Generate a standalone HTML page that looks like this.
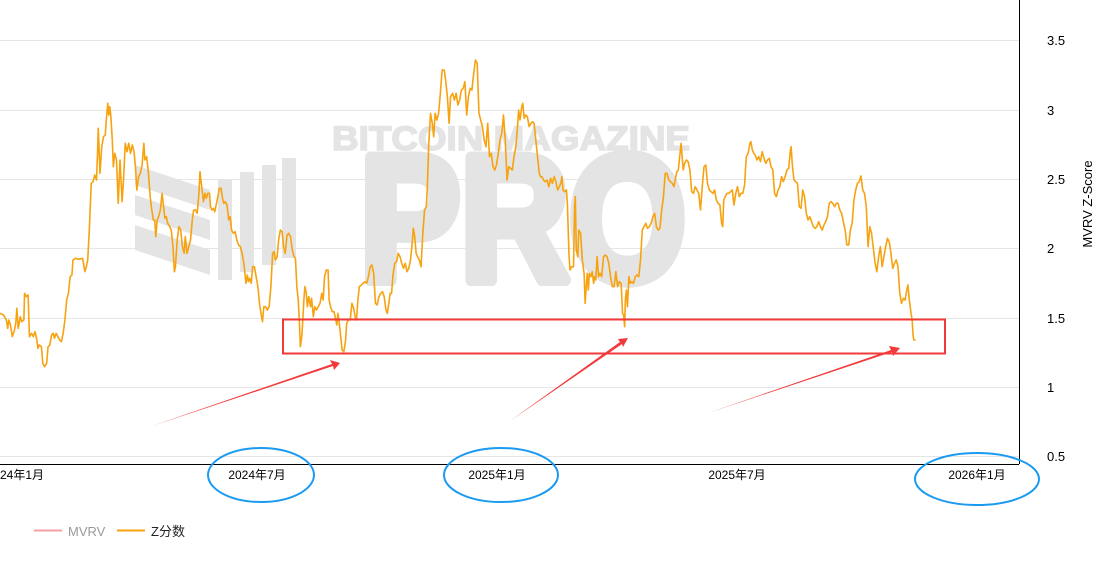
<!DOCTYPE html>
<html><head><meta charset="utf-8"><style>
html,body{margin:0;padding:0;background:#fff;width:1093px;height:562px;overflow:hidden}
svg{display:block;font-family:"Liberation Sans","Noto Sans CJK SC",sans-serif}
</style></head><body>
<svg width="1093" height="562" viewBox="0 0 1093 562">
<!-- grid -->
<g stroke="#e6e6e6" stroke-width="1">
<line x1="0" x2="1019" y1="40.5" y2="40.5"/>
<line x1="0" x2="1019" y1="110.5" y2="110.5"/>
<line x1="0" x2="1019" y1="179.5" y2="179.5"/>
<line x1="0" x2="1019" y1="248.5" y2="248.5"/>
<line x1="0" x2="1019" y1="318.5" y2="318.5"/>
<line x1="0" x2="1019" y1="387.5" y2="387.5"/>
<line x1="0" x2="1019" y1="456.5" y2="456.5"/>
</g>
<!-- watermark -->
<g fill="#e4e4e4" stroke="#e4e4e4">
<text x="332" y="150" font-size="34" font-weight="bold" stroke-width="1.5" textLength="358" lengthAdjust="spacingAndGlyphs">BITCOIN MAGAZINE</text>
<text x="360" y="280" font-size="178" font-weight="bold" stroke-width="12" stroke-linejoin="round" textLength="326" lengthAdjust="spacingAndGlyphs">PRO</text>
</g>
<g fill="#e4e4e4">
<polygon points="135,165 210,190 210,210 135,185"/>
<polygon points="135,195 210,220 210,240 135,215"/>
<polygon points="135,225 210,250 210,275 135,250"/>
<rect x="218" y="180" width="14" height="100"/>
<rect x="240" y="172" width="14" height="100"/>
<rect x="262" y="165" width="14" height="100"/>
<rect x="282" y="158" width="14" height="100"/>
</g>
<!-- axes -->
<line x1="0" x2="1019" y1="464.5" y2="464.5" stroke="#000"/>
<line x1="1019.5" x2="1019.5" y1="0" y2="464" stroke="#000"/>
<g font-size="12" fill="#000">
<g font-size="13">
<text x="1047" y="45">3.5</text>
<text x="1047" y="115">3</text>
<text x="1047" y="184">2.5</text>
<text x="1047" y="253">2</text>
<text x="1047" y="323">1.5</text>
<text x="1047" y="392">1</text>
<text x="1047" y="461">0.5</text>
</g>
<text x="0" y="479">24年1月</text>
<text x="257" y="479" text-anchor="middle">2024年7月</text>
<text x="497" y="479" text-anchor="middle">2025年1月</text>
<text x="737" y="479" text-anchor="middle">2025年7月</text>
<text x="977" y="479" text-anchor="middle">2026年1月</text>
<text transform="translate(1092,204) rotate(-90)" text-anchor="middle" font-size="13">MVRV Z-Score</text>
</g>
<!-- series -->
<g fill="none" stroke="#f7a20f" stroke-width="1.6" stroke-linejoin="round">
<polyline vector-effect="non-scaling-stroke" transform="scale(0.35088,0.33333)" points="0,940 10,945 18,960 22,985 25,960 30,975 35,1010 40,995 45,970 48,925 52,985 58,950 62,965 68,960 70,880 75,890 80,885 84,1010 90,1000 95,1010 100,995 105,1020 108,1045 112,1035 118,1040 122,1090 127,1100 133,1090 137,1040 142,1035 147,1005 152,1000 155,1015 160,1000 165,1010 170,1020 175,1025 180,1000 185,960 190,900 195,880 200,830 205,825 208,780 215,775 225,778 235,775 238,790 242,815 246,800 250,780 255,680 260,550 265,545 270,525 275,540 278,460 280,385 285,520 290,440 295,410 300,405 303,360 307,310 310,345 313,320 316,350 320,420 323,500 327,460 332,480 337,610 342,480 348,605 352,540 357,430 362,455 367,430 372,460 377,435 382,455 386,500 390,570 395,530 400,520 405,495 410,430 413,480 418,470 423,520 428,590 432,625 437,660 441,660 444,710 448,660 452,650 457,630 462,580 465,610 470,655 474,650 478,670 484,680 488,690 493,740 497,815 500,800 505,720 510,680 515,690 520,740 525,760 528,710 533,760 538,740 543,720 548,660 552,630 557,630 562,640 567,580 570,515 573,545 576,570 580,605 584,580 588,595 592,580 597,580 600,620 604,630 608,625 612,635 615,620 620,595 625,565 630,565 635,600 638,610 642,605 647,615 652,660 656,650 660,690 665,700 670,695 675,720 680,735 685,740 690,760 695,790 698,820 701,850 705,825 708,845 712,835 716,850 720,800 725,800 730,830 735,860 740,915 744,940 748,965 752,920 757,920 762,930 767,920 772,860 777,760 781,755 785,780 790,770 794,720 799,690 804,695 808,740 813,760 818,705 823,700 828,710 833,750 838,770 842,775 846,860 850,900 853,960 856,1040 860,1010 863,960 866,900 869,860 873,880 876,920 880,890 885,920 888,895 893,950 897,920 902,930 907,920 912,910 917,880 921,900 925,830 930,810 935,810 938,900 942,920 947,935 952,935 957,960 960,975 963,940 966,960 970,1000 975,1050 980,1055 985,1020 988,970 993,960 998,960 1003,910 1008,925 1012,950 1016,960 1020,900 1024,860 1030,855 1035,850 1040,845 1045,850 1050,830 1055,800 1060,795 1065,820 1070,910 1075,915 1080,890 1085,880 1090,875 1095,890 1100,930 1104,940 1108,910 1112,880 1116,880 1120,825 1125,790 1130,785 1135,760 1140,770 1145,790 1150,805 1155,790 1160,815 1165,805 1170,780 1175,725 1178,685 1182,710 1186,760 1190,770 1195,780 1200,800 1205,700 1210,630 1215,620 1218,560 1222,430 1227,340 1232,370 1236,410 1240,340 1245,360 1250,340 1255,280 1260,210 1266,210 1270,240 1275,290 1280,370 1284,290 1290,280 1295,300 1300,280 1305,315 1310,300 1315,270 1320,265 1325,245 1330,345 1335,290 1340,265 1345,270 1350,220 1355,180 1360,190 1365,340 1370,360 1375,380 1380,420 1385,440 1390,370 1395,470 1400,460 1405,500 1410,510 1415,495 1420,460 1425,420 1430,400 1435,345 1440,420 1445,540 1450,500 1455,505 1460,510 1465,470 1470,440 1475,380 1478,330 1482,360 1487,320 1490,310 1494,355 1498,345 1503,350 1508,380 1513,370 1518,365 1522,370 1527,420 1532,470 1537,520 1540,530"/>
<polyline vector-effect="non-scaling-stroke" transform="translate(540,0) scale(0.35273,0.33333)" points="0,530 5,530 10,540 15,545 20,540 25,560 30,535 35,550 40,530 45,545 50,570 55,560 60,545 62,530 65,570 70,575 75,570 78,620 82,760 85,810 90,800 95,800 98,620 100,590 103,750 107,770 110,690 115,700 120,780 125,820 128,910 131,860 134,820 137,870 140,820 145,830 148,815 152,850 155,830 158,840 162,770 166,830 170,820 175,830 180,770 185,765 190,770 195,790 200,830 205,860 210,860 215,815 220,860 225,845 230,850 234,940 237,945 240,980 242,900 245,870 248,920 252,830 256,850 260,845 265,850 270,830 275,825 280,830 285,780 290,690 295,680 300,670 305,685 310,680 315,670 320,650 325,640 330,680 335,690 340,685 345,630 350,590 355,520 360,520 365,540 370,545 375,550 380,560 385,530 388,515 392,510 396,470 400,430 403,470 406,510 410,490 415,480 420,485 425,510 430,575 435,580 440,560 445,570 450,580 455,630 460,560 465,500 470,495 475,550 480,570 485,575 490,580 495,570 500,600 505,610 510,615 515,670 518,680 521,600 525,590 530,580 535,580 540,575 545,570 550,615 555,580 560,560 565,590 570,580 575,580 580,555 583,500 585,470 590,460 595,430 598,425 602,450 606,460 610,465 615,480 620,470 625,485 630,455 635,475 640,490 645,480 650,475 655,500 660,510 665,580 670,590 675,570 680,560 685,530 690,545 695,530 700,510 705,505 710,450 712,440 715,490 720,540 725,545 730,550 735,620 740,625 745,570 750,590 755,640 760,660 765,650 770,665 775,680 780,685 785,680 790,665 795,680 800,690 805,675 810,665 815,650 820,610 825,605 830,610 835,620 840,610 845,610 850,630 855,640 860,665 865,690 870,735 875,735 880,690 885,670 890,600 895,570 900,550 905,545 910,528 915,570 920,580 925,620 930,740 935,680 940,700 945,745 950,790 955,815 960,770 965,740 970,800 975,770 980,740 985,715 990,725 995,760 1000,805 1005,790 1010,780 1015,800 1020,880 1025,910 1030,895 1035,900 1040,870 1043,855 1047,900 1052,940 1055,960 1058,1010 1060,1020 1065,1020"/>
</g>
<!-- annotations -->
<rect x="283" y="319.5" width="662" height="34" fill="none" stroke="#f23a3a" stroke-width="2"/>
<g fill="#f23a3a">
<polygon points="152,426 332,364 330,360 340,363 334,370 333,366"/>
<polygon points="510,421 620,342 618,339 628,338 623,347 622,344"/>
<polygon points="708,413 891,350 889,346 900,348 893,356 892,352"/>
</g>
<g fill="none" stroke="#1a9af0" stroke-width="2">
<ellipse cx="261" cy="475" rx="53" ry="27"/>
<ellipse cx="501" cy="475" rx="57" ry="27"/>
<ellipse cx="977" cy="479" rx="62" ry="26"/>
</g>
<!-- legend -->
<line x1="34" x2="62" y1="530.5" y2="530.5" stroke="#f4a0a0" stroke-width="2"/>
<text x="68" y="536" font-size="13" fill="#999">MVRV</text>
<line x1="117" x2="145" y1="530.5" y2="530.5" stroke="#f7a20f" stroke-width="2"/>
<text x="151" y="536" font-size="13" fill="#222">Z分数</text>
</svg>
</body></html>
